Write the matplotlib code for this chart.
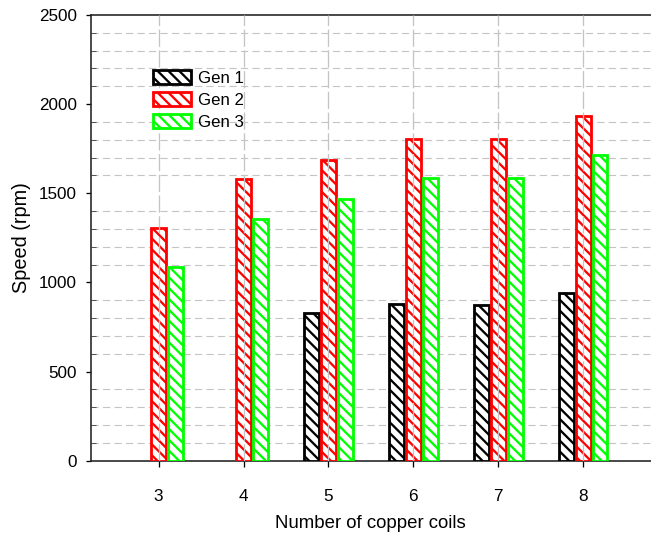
import numpy as np
import matplotlib
matplotlib.use("Agg")
import matplotlib.pyplot as plt
from matplotlib.ticker import MultipleLocator, FixedLocator

categories = [3, 4, 5, 6, 7, 8]
gen1 = [None, None, 830, 880, 872, 940]
gen2 = [1307, 1578, 1685, 1803, 1806, 1936]
gen3 = [1088, 1356, 1466, 1583, 1586, 1717]
series_names = ["Gen 1", "Gen 2", "Gen 3"]
colors = ["#000000", "#ff0000", "#00ff00"]

DPI = 130
PX = 72.0 / DPI  # points per pixel

plt.rcParams['font.family'] = ['Liberation Sans', 'DejaVu Sans']
plt.rcParams['hatch.linewidth'] = 2.3 * PX

fig = plt.figure(figsize=(651 / DPI, 540 / DPI), dpi=DPI)
ax = fig.add_axes([90.7 / 651, 1 - 460.7 / 540, 1 - 90.7 / 651, 445.7 / 540])

width = 0.175
offset = 0.2
for k, (vals, name, c) in enumerate(zip([gen1, gen2, gen3], series_names, colors)):
    xs = [x + (k - 1) * offset for x, v in zip(categories, vals) if v is not None]
    hs = [v for v in vals if v is not None]
    ax.bar(xs, hs, width=width, facecolor='white', edgecolor=c,
           linewidth=2.8 * PX, hatch='\\\\\\\\', label=name, zorder=3)

ax.set_xlim(2.2, 8.8)
ax.set_ylim(0, 2500)
ax.xaxis.set_major_locator(FixedLocator(categories))
ax.set_xticklabels([str(c) for c in categories])
ax.yaxis.set_major_locator(MultipleLocator(500))
ax.yaxis.set_minor_locator(MultipleLocator(100))

# grid: horizontal at minor (non-major) positions, vertical at categories
for y in range(100, 2500, 100):
    if y % 500 != 0:
        ax.axhline(y, color='#c4c4c4', linewidth=1.1 * PX,
                   dashes=(12 * 0.55, 7 * 0.55), zorder=1)
for x in categories:
    ax.axvline(x, color='#c4c4c4', linewidth=1.3 * PX,
               dashes=(24 * 0.55, 5 * 0.55), zorder=4)

for s in ['left', 'bottom', 'top']:
    ax.spines[s].set_linewidth(1.6 * PX)
    ax.spines[s].set_color('#222222')
ax.spines['right'].set_visible(False)

ax.tick_params(axis='y', which='major', direction='out', length=5 * PX,
               width=1.3 * PX, labelsize=9.5, pad=9 * PX)
ax.tick_params(axis='y', which='minor', direction='in', length=5 * PX,
               width=1.0 * PX, color='#555555')
ax.tick_params(axis='x', which='major', direction='out', length=6 * PX,
               width=1.3 * PX, labelsize=9.5, pad=22 * PX)
ax.tick_params(axis='x', which='minor', bottom=False)

ax.set_ylabel('Speed (rpm)', fontsize=11, labelpad=8 * PX)
ax.set_xlabel('Number of copper coils', fontsize=10.3, labelpad=11 * PX)

leg = ax.legend(loc='upper left', bbox_to_anchor=(153 / 651, 1 - 70 / 540),
                bbox_transform=fig.transFigure, frameon=False, fontsize=9.3,
                handlelength=2.25, handleheight=0.95, labelspacing=0.35,
                handletextpad=0.45, borderpad=0, borderaxespad=0)

fig.savefig('out.png', dpi=DPI)
